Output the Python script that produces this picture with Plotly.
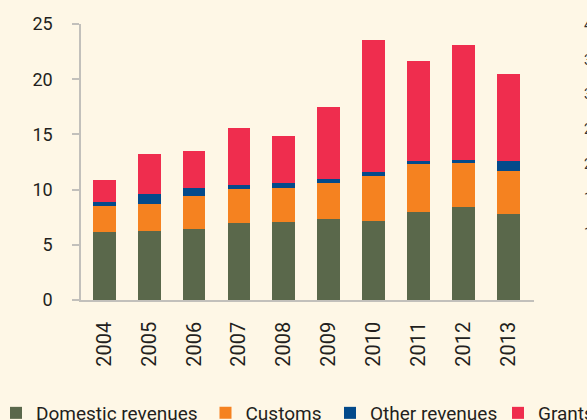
import plotly.graph_objects as go

years = ["2004", "2005", "2006", "2007", "2008", "2009", "2010", "2011", "2012", "2013"]
domestic = [6.13, 6.23, 6.41, 6.95, 7.04, 7.31, 7.13, 7.95, 8.40, 7.77]
customs = [2.36, 2.44, 2.99, 3.08, 3.08, 3.27, 4.08, 4.35, 3.99, 3.89]
other = [0.36, 0.91, 0.72, 0.37, 0.46, 0.36, 0.36, 0.27, 0.27, 0.91]
grants = [2.00, 3.63, 3.36, 5.16, 4.26, 6.53, 11.97, 9.07, 10.43, 7.89]
series_names = ["Domestic revenues", "Customs", "Other revenues", "Grants"]
y_ticks = [0, 5, 10, 15, 20, 25]
y2_ticks = [10, 15, 20, 25, 30, 35, 40]

colors = ["#5A684B", "#F58220", "#034A8B", "#EF2D4E"]
BG = "#FEF7E6"
FONT = "Roboto, Liberation Sans, sans-serif"
TXT = "#231F20"
AX = "#C2C0BB"

W, H = 587, 420
ML, MR, MT, MB = 81, 4, 24, 120
pw = W - ML - MR
ph = H - MT - MB

fig = go.Figure()
legend_px = [-4, 205.5, 330, 498]
for i, (name, vals) in enumerate(zip(series_names, [domestic, customs, other, grants])):
    lg = "legend" if i == 0 else f"legend{i+1}"
    fig.add_trace(go.Bar(x=years, y=vals, name=name, marker=dict(color=colors[i], line=dict(width=0)),
                         legend=lg))

# empty helper trace so the partial right-hand axis is drawn
fig.add_trace(go.Scatter(x=[None], y=[None], yaxis="y2", showlegend=False, hoverinfo="skip"))

leg_y = (MT + ph - 413) / ph
legends = {}
for i, px in enumerate(legend_px):
    key = "legend" if i == 0 else f"legend{i+1}"
    legends[key] = dict(x=(px - ML) / pw, xanchor="left", y=leg_y, yanchor="middle",
                        orientation="h", bgcolor="rgba(0,0,0,0)",
                        font=dict(family=FONT, size=19, color=TXT))

fig.update_layout(
    width=W, height=H,
    margin=dict(l=ML, r=MR, t=MT, b=MB, autoexpand=False),
    paper_bgcolor=BG, plot_bgcolor=BG,
    barmode="stack", bargap=0.49,
    showlegend=True,
    xaxis=dict(domain=[0, 453 / pw], range=[-0.516, 9.567], showline=True, linecolor=AX, linewidth=1.5,
               ticks="", tickangle=-90, ticklabelstandoff=12,
               tickfont=dict(family=FONT, size=20, color=TXT), showgrid=False, zeroline=False),
    yaxis=dict(range=[0, 25], tickvals=y_ticks, showline=True, linecolor=AX, linewidth=1.5,
               ticks="outside", ticklen=7, tickcolor=AX, tickwidth=1.5, ticklabelstandoff=16,
               tickfont=dict(family=FONT, size=18, color=TXT), showgrid=False, zeroline=False),
    yaxis2=dict(overlaying="y", anchor="free", position=1, side="right", range=[0.38, 40.14],
                tickvals=y2_ticks, showline=False, ticks="", showgrid=False, zeroline=False,
                tickfont=dict(family=FONT, size=14, color="#333333")),
    **legends,
)

fig.write_html("out.html", config={"displayModeBar": False},
               post_script="document.body.style.margin='0';document.body.style.overflow='hidden';")
